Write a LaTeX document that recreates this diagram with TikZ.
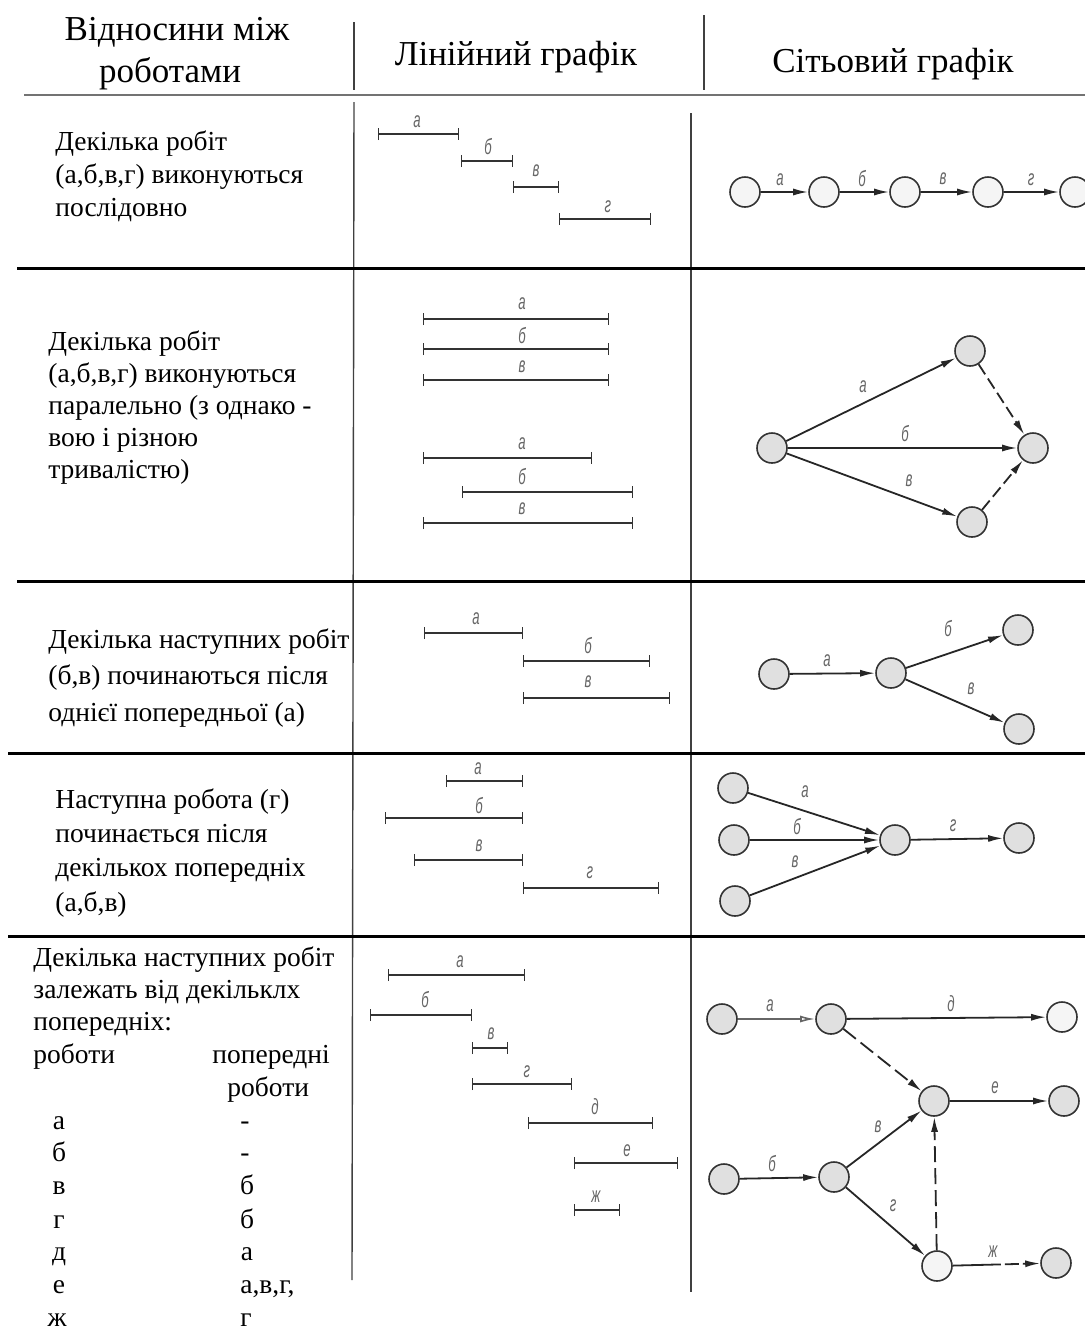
\documentclass[tikz,border=0pt]{standalone}
\usepackage{fontspec}
\setmainfont{Liberation Serif}
\newfontfamily\bodyfont{Liberation Serif}
\newfontfamily\lblfont[FakeStretch=0.6]{Liberation Sans}
\usetikzlibrary{arrows.meta}
\tikzset{
 hdr/.style={font=\bodyfont\fontsize{17.5}{21}\selectfont, inner sep=0, anchor=base},
 txt/.style={font=\bodyfont\fontsize{13.75}{#1}\selectfont, align=left, anchor=base west, inner sep=0},
 txt/.default=16.4,
 cellc/.style={font=\bodyfont\fontsize{13.75}{16.4}\selectfont, inner sep=0, anchor=base},
 cellw/.style={font=\bodyfont\fontsize{13.75}{16.4}\selectfont, inner sep=0, anchor=base west},
 lbl/.style={font=\lblfont\itshape\fontsize{11}{12}\selectfont, text=black!60, inner sep=0},
 ev/.style={circle, draw=black!80, line width=0.8pt, fill=black!12, minimum size=15pt, inner sep=0},
 evw/.style={ev, fill=black!4},
 act/.style={draw=black!85, line width=0.9pt, -{Latex[length=7.5pt,width=3.5pt]}},
 dum/.style={act, dash pattern=on 6pt off 2.5pt},
 gbar/.style={draw=black!80, line width=1.2pt, {Bar[width=6pt,line width=0.5pt]}-{Bar[width=6pt,line width=0.5pt]}},
 sep/.style={line width=1.5pt, black},
 vline/.style={line width=0.7pt, black!75},
}
\newcommand\gantt[7]{\draw[gbar] (#2,#4) -- (#3,#4); \node[lbl] (#1) at (#6,#7) {#5};}
\begin{document}
\begin{tikzpicture}[x=0.5pt,y=-0.5pt]
\useasboundingbox (0,0) rectangle (1085,1330);
% ---------- header ----------
\node[hdr] (h1a) at (177,40) {Відносини між};
\node[hdr] (h1b) at (170,82) {роботами};
\node[hdr] (h2) at (516,65) {Лінійний графік};
\node[hdr] (h3) at (893,72) {Сітьовий графік};
\draw[vline] (354,22) -- (354,90);
\draw[vline] (704,15) -- (704,90);
\draw[line width=1.2pt, black!55] (24,95) -- (1085,95);
% ---------- grid ----------
\draw[vline] (354,102) -- (352,1280);
\draw[vline] (691,113) -- (691,1292);
\draw[sep] (17,268) -- (1085,268);
\draw[sep] (17,581) -- (1085,581);
\draw[sep] (8,753) -- (1085,753);
\draw[sep] (8,936) -- (1085,936);
% ---------- left column texts (anchor = baseline of last line) ----------
\node[txt] (t1) at (55,216) {Декілька робіт\\(а,б,в,г) виконуються\\послідовно};
\node[txt=15.9] (t2) at (48,478) {Декілька робіт\\(а,б,в,г) виконуються\\паралельно (з однако -\\вою і різною\\тривалістю)};
\node[txt=18.25] (t3) at (48,721) {Декілька наступних робіт\\(б,в) починаються після\\однієї попередньої (а)};
\node[txt=17.15] (t4) at (55,911) {Наступна робота (г)\\починається після\\декількох попередніх\\(а,б,в)};
\node[txt=16] (t5) at (33,1030) {Декілька наступних робіт\\залежать від декільклх\\попередніх:};
\node[cellw] (k1) at (33,1063) {роботи};
\node[cellw] (k2) at (212,1063) {попередні};
\node[cellw] (k3) at (227,1096) {роботи};
\node[cellc] (wa) at (59,1129) {а};
\node[cellc] (wb) at (59,1161) {б};
\node[cellc] (wv) at (59,1194) {в};
\node[cellc] (wg) at (59,1228) {г};
\node[cellc] (wd) at (59,1260) {д};
\node[cellc] (we) at (59,1293) {е};
\node[cellc] (wz) at (57,1326) {ж};
\node[cellc] (pa) at (245,1129) {-};
\node[cellc] (pb) at (245,1161) {-};
\node[cellc] (pv) at (247,1194) {б};
\node[cellc] (pg) at (247,1228) {б};
\node[cellc] (pd) at (247,1260) {а};
\node[cellw] (pe) at (240,1293) {а,в,г,};
\node[cellc] (pz) at (246,1326) {г};
% ---------- Gantt charts ----------
\gantt{g1a}{378}{459}{134}{а}{417}{122}
\gantt{g1b}{461}{513}{161}{б}{488}{147}
\gantt{g1v}{513}{559}{187}{в}{536}{171}
\gantt{g1g}{559}{651}{219}{г}{608}{207}
\gantt{g2a}{423}{609}{319}{а}{522}{304}
\gantt{g2b}{423}{609}{349}{б}{522}{336}
\gantt{g2v}{423}{609}{380}{в}{522}{367}
\gantt{g2c}{423}{592}{458}{а}{522}{444}
\gantt{g2d}{462}{633}{492}{б}{522}{477}
\gantt{g2e}{423}{633}{523}{в}{522}{509}
\gantt{g3a}{424}{523}{633}{а}{476}{619}
\gantt{g3b}{523}{650}{661}{б}{588}{646}
\gantt{g3v}{523}{670}{698}{в}{588}{682}
\gantt{g4a}{446}{523}{781}{а}{478}{769}
\gantt{g4b}{385}{523}{818}{б}{479}{806}
\gantt{g4v}{414}{523}{860}{в}{479}{846}
\gantt{g4g}{523}{659}{888}{г}{590}{873}
\gantt{g5a}{388}{525}{975}{а}{460}{962}
\gantt{g5b}{370}{472}{1015}{б}{425}{1000}
\gantt{g5v}{472}{508}{1048}{в}{491}{1034}
\gantt{g5g}{472}{572}{1084}{г}{527}{1072}
\gantt{g5d}{528}{653}{1123}{д}{595}{1107}
\gantt{g5e}{574}{678}{1163}{е}{627}{1151}
\gantt{g5z}{574}{620}{1210}{ж}{596}{1197}
% ---------- network row 1 ----------
\node[evw] (r1a) at (745,192) {};
\node[evw] (r1b) at (824,192) {};
\node[evw] (r1c) at (905,192) {};
\node[evw] (r1d) at (988,192) {};
\node[evw] (r1e) at (1075,192) {};
\draw[act] (r1a) -- (r1b);
\draw[act] (r1b) -- (r1c);
\draw[act] (r1c) -- (r1d);
\draw[act] (r1d) -- (r1e);
\node[lbl] (l1a) at (780,180) {а};
\node[lbl] (l1b) at (862,179) {б};
\node[lbl] (l1v) at (943,179) {в};
\node[lbl] (l1g) at (1031,180) {г};
% ---------- network row 2 ----------
\node[ev] (r2s) at (772,448) {};
\node[ev] (r2t) at (970,351) {};
\node[ev] (r2r) at (1033,448) {};
\node[ev] (r2b) at (972,522) {};
\draw[act] (r2s) -- (r2t);
\draw[act] (r2s) -- (r2r);
\draw[act] (r2s) -- (r2b);
\draw[dum] (r2t) -- (r2r);
\draw[dum] (r2b) -- (r2r);
\node[lbl] (l2a) at (863,387) {а};
\node[lbl] (l2b) at (905,434) {б};
\node[lbl] (l2v) at (909,481) {в};
% ---------- network row 3 ----------
\node[ev] (r3a) at (774,674) {};
\node[ev] (r3b) at (891,673) {};
\node[ev] (r3c) at (1018,630) {};
\node[ev] (r3d) at (1019,729) {};
\draw[act] (r3a) -- (r3b);
\draw[act] (r3b) -- (r3c);
\draw[act] (r3b) -- (r3d);
\node[lbl] (l3a) at (827,661) {а};
\node[lbl] (l3b) at (948,629) {б};
\node[lbl] (l3v) at (971,689) {в};
% ---------- network row 4 ----------
\node[ev] (r4a) at (733,788) {};
\node[ev] (r4b) at (734,840) {};
\node[ev] (r4c) at (735,901) {};
\node[ev] (r4m) at (895,840) {};
\node[ev] (r4r) at (1019,838) {};
\draw[act] (r4a) -- (r4m);
\draw[act] (r4b) -- (r4m);
\draw[act] (r4c) -- (r4m);
\draw[act] (r4m) -- (r4r);
\node[lbl] (l4a) at (805,792) {а};
\node[lbl] (l4b) at (797,827) {б};
\node[lbl] (l4v) at (795,862) {в};
\node[lbl] (l4g) at (953,826) {г};
% ---------- network row 5 ----------
\node[ev] (a1) at (722,1019) {};
\node[ev] (a2) at (831,1019) {};
\node[evw] (a3) at (1062,1017) {};
\node[ev] (mm) at (934,1101) {};
\node[ev] (mr) at (1064,1101) {};
\node[ev] (b1) at (724,1179) {};
\node[ev] (b2) at (834,1177) {};
\node[evw] (ll) at (937,1266) {};
\node[ev] (lr) at (1056,1263) {};
\draw[draw=black!60, line width=0.8pt, -{Latex[open,length=7.5pt,width=3.5pt]}] (a1) -- (a2);
\draw[act] (a2) -- (a3);
\draw[act, dash pattern=on 8pt off 3pt] (a2) -- (mm);
\draw[act] (mm) -- (mr);
\draw[act] (b1) -- (b2);
\draw[act] (b2) -- (mm);
\draw[act] (b2) -- (ll);
\draw[act, dash pattern=on 8pt off 3pt] (ll) -- (mm);
\draw[act, dash pattern=on 24pt off 2pt on 7pt off 2pt on 20pt] (ll) -- (lr);
\node[lbl] (l5a) at (770,1006) {а};
\node[lbl] (l5d) at (951,1004) {д};
\node[lbl] (l5e) at (995,1088) {е};
\node[lbl] (l5v) at (878,1127) {в};
\node[lbl] (l5b) at (772,1164) {б};
\node[lbl] (l5g) at (893,1206) {г};
\node[lbl] (l5z) at (993,1252) {ж};
\end{tikzpicture}
\end{document}
